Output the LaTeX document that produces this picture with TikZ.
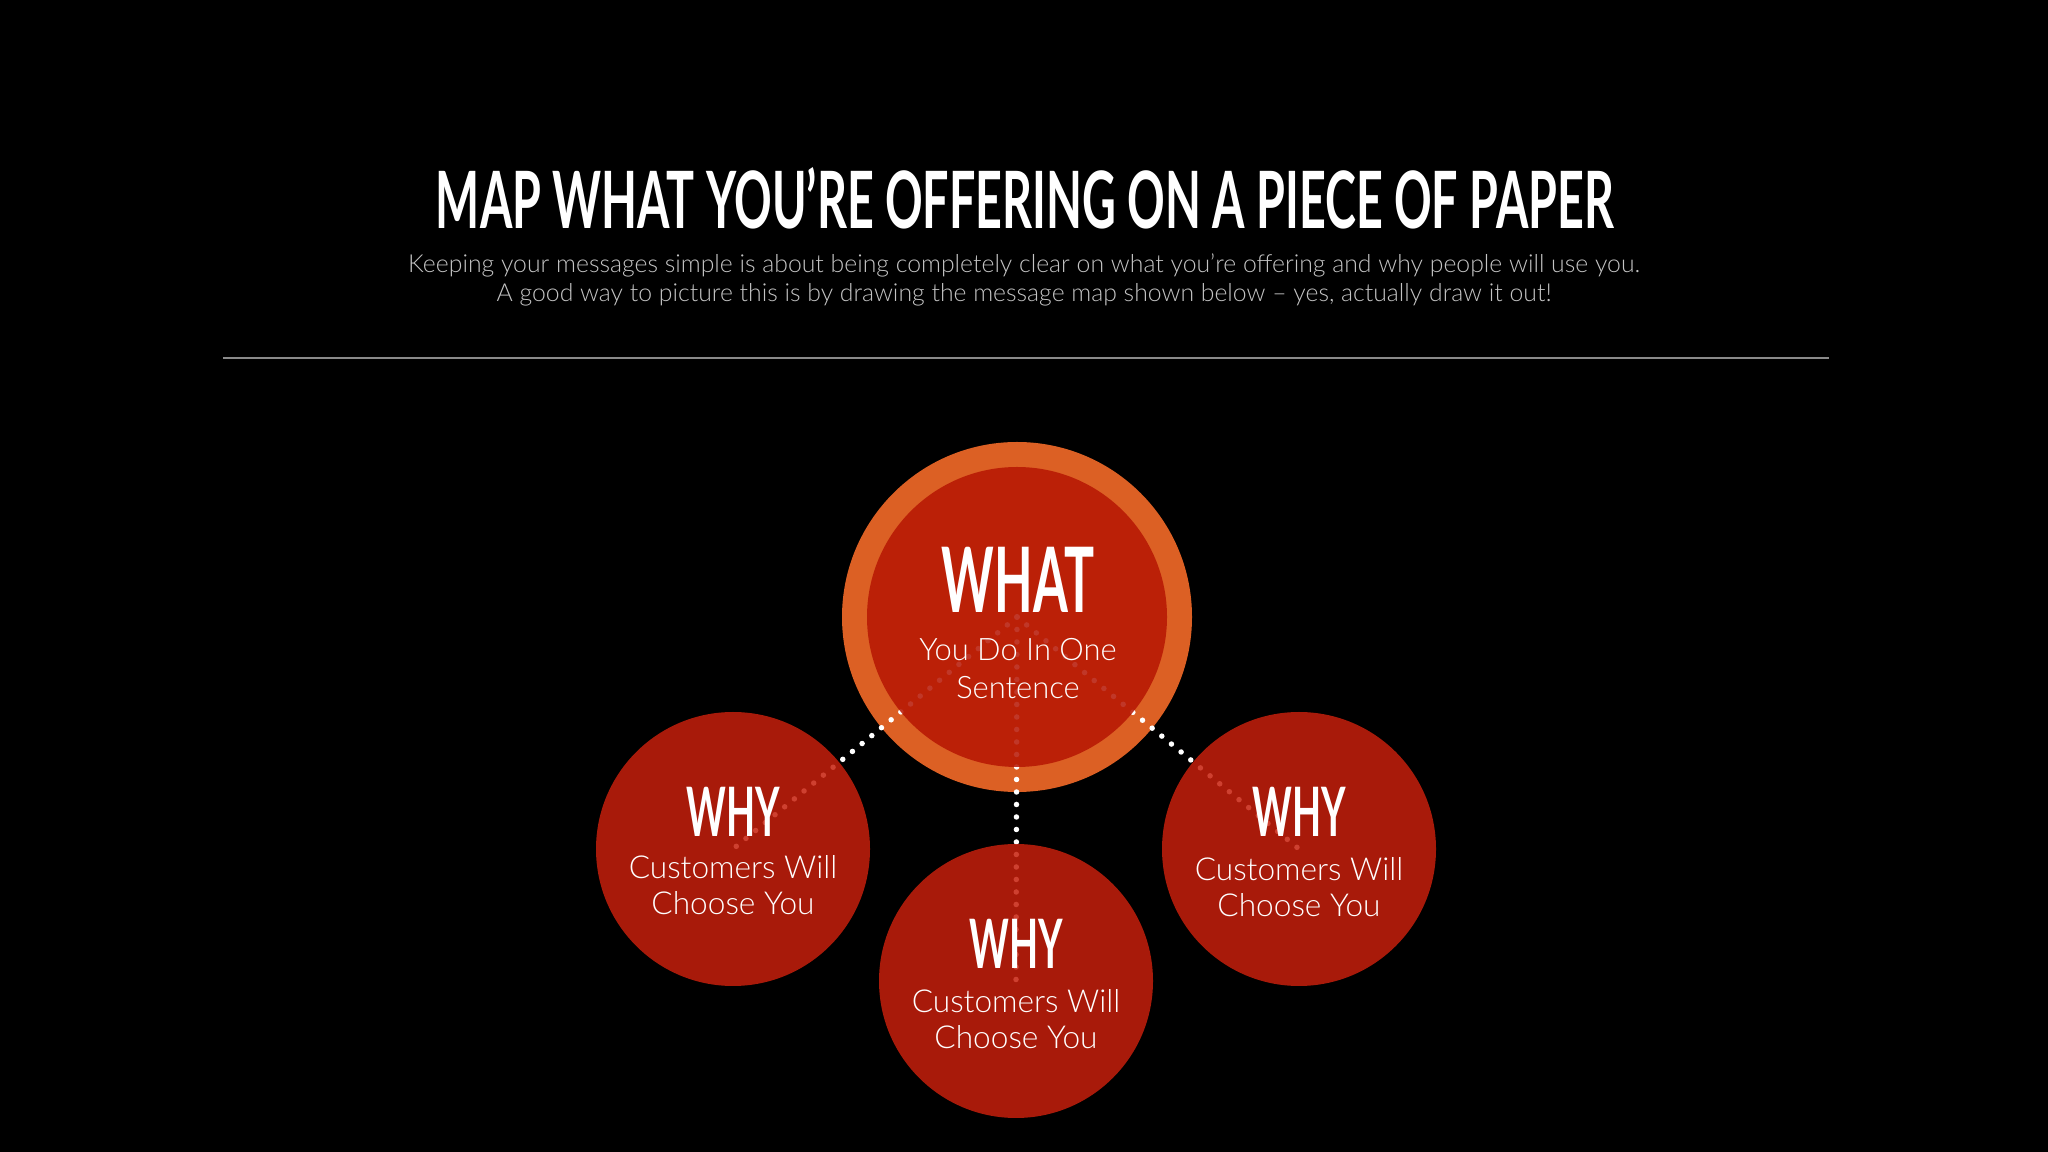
\documentclass[tikz,border=0pt]{standalone}
\usepackage{fontspec}
\setmainfont{Lato}
\newfontfamily\lightfont{Lato Light}
\newfontfamily\headfont{Lato}[FakeStretch=0.59]
\newfontfamily\labelfont{Lato}[FakeStretch=0.555]
\usetikzlibrary{positioning}
\definecolor{ringorange}{HTML}{DC6024}
\definecolor{whatred}{HTML}{B61503}
\definecolor{whyred}{HTML}{C61F0C}
\definecolor{subgray}{HTML}{C4C4C4}
\definecolor{rulegray}{HTML}{8A8A8A}
\pgfdeclarelayer{back}
\pgfdeclarelayer{dotlayer}
\pgfsetlayers{back,dotlayer,main}

\begin{document}
\begin{tikzpicture}[x=0.1mm,y=-0.1mm,
		disc/.style={circle,inner sep=0pt,fill opacity=.85},
		labeltext/.style={text=white,font=\labelfont\bfseries\fontsize{#1}{#1}\selectfont},
		bodytext/.style={text=white,align=center,font=\lightfont\fontsize{9}{#1}\selectfont},
		dots/.style={white,line width=.55mm,line cap=round,dash pattern=on 0pt off 1.25mm}]
		% heading
		\node[text=white,font=\headfont\bfseries\fontsize{22.5}{22.5}\selectfont] (title) at (1025,198) {MAP WHAT YOU’RE OFFERING ON A PIECE OF PAPER};
		\node[text=subgray,align=center,font=\lightfont\fontsize{7.05}{8.25}\selectfont] (intro) at (1024,280)
			{Keeping your messages simple is about being completely clear on what you’re offering and why people will use you.\\
			A good way to picture this is by drawing the message map shown below – yes, actually draw it out!};
		\draw[rulegray,line width=.25mm] (223,358) -- (1829,358);

		% map
		\node[disc,fill=whatred,minimum size=30mm] (what) at (1017,617) {};
		\node[disc,fill=whyred,minimum size=27.4mm] (whyleft) at (733,849) {};
		\node[disc,fill=whyred,minimum size=27.4mm] (whybottom) at (1016,981) {};
		\node[disc,fill=whyred,minimum size=27.4mm] (whyright) at (1299,849) {};

		\begin{pgfonlayer}{back}
			\fill[black] (0,0) rectangle (2048,1152);
			\node[circle,inner sep=0pt,fill=ringorange,minimum size=35mm] (ring) at (what) {};
		\end{pgfonlayer}
		\begin{pgfonlayer}{dotlayer}
			\draw[dots] (what.center) -- (whyleft.center);
			\draw[dots] (what.center) -- (whybottom.center);
			\draw[dots] (what.center) -- (whyright.center);
		\end{pgfonlayer}

		\node[labeltext=25.7] (whatlabel) at (1018,580) {WHAT};
		\node[bodytext=10.8,font=\lightfont\fontsize{8.8}{10.8}\selectfont] (whattext) at (1018,669) {You Do In One\\Sentence};
		\node[labeltext=19.4] (whyleftlabel) at (733,812) {WHY};
		\node[bodytext=10.3] (whylefttext) at (733,885) {Customers Will\\Choose You};
		\node[labeltext=19.4] (whybottomlabel) at (1016,944) {WHY};
		\node[bodytext=10.3] (whybottomtext) at (1016,1019) {Customers Will\\Choose You};
		\node[labeltext=19.4] (whyrightlabel) at (1299,812) {WHY};
		\node[bodytext=10.3] (whyrighttext) at (1299,887) {Customers Will\\Choose You};
	\end{tikzpicture}
\end{document}
